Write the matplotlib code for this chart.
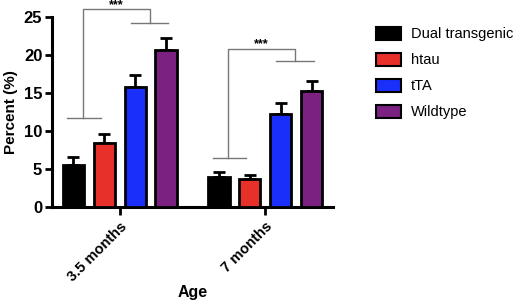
import matplotlib
matplotlib.use("Agg")
import matplotlib.pyplot as plt
from matplotlib.patches import Patch
import numpy as np

plt.rcParams['font.family'] = ['Liberation Sans', 'DejaVu Sans']

groups = ["3.5 months", "7 months"]
series = ["Dual transgenic", "htau", "tTA", "Wildtype"]
colors = ["#000000", "#E8302A", "#1B2FFB", "#7A2182"]
means = {
    "Dual transgenic": [5.5, 4.0],
    "htau": [8.4, 3.7],
    "tTA": [15.8, 12.2],
    "Wildtype": [20.7, 15.3],
}
errs = {
    "Dual transgenic": [1.1, 0.6],
    "htau": [1.2, 0.5],
    "tTA": [1.6, 1.5],
    "Wildtype": [1.5, 1.3],
}
yticks = [0, 5, 10, 15, 20, 25]

fig = plt.figure(figsize=(5.17, 3.07), dpi=100)
ax = fig.add_axes([52/517, 1-207/307, (333-52)/517, (207-17)/307])

x = np.arange(len(groups))
spacing = 0.212
width = 0.145
for i, s in enumerate(series):
    pos = x + (i - 1.5) * spacing
    ax.bar(pos, means[s], width, color=colors[i], edgecolor="black", linewidth=2, zorder=3)
    ax.errorbar(pos, means[s], yerr=[np.zeros(2), errs[s]], fmt="none", ecolor="black",
                elinewidth=2, capsize=4, capthick=2, zorder=2)

ax.set_xlim(-0.465, 1.465)
ax.set_ylim(0, 25)
ax.set_yticks(yticks)
ax.set_xticks(x)
ax.set_xticklabels(groups, rotation=45, ha="right", rotation_mode="anchor", fontweight="bold", fontsize=10.5)
for lab in ax.get_yticklabels():
    lab.set_fontweight("bold")
    lab.set_fontsize(12)
ax.tick_params(axis="both", width=2, length=5, direction="out", pad=2)
ax.tick_params(axis="x", length=6, pad=3)
for sp in ["top", "right"]:
    ax.spines[sp].set_visible(False)
for sp in ["left", "bottom"]:
    ax.spines[sp].set_linewidth(2.2)
ax.set_ylabel("Percent (%)", fontweight="bold", fontsize=11, labelpad=4)
ax.set_xlabel("Age", fontweight="bold", fontsize=11.5, labelpad=1)

# significance brackets
gray = "#777777"
brackets = [
    # (group, lower_y, upper_y, top_y, star_y)
    (0, 11.7, 24.2, 26.0, 26.6),
    (1, 6.5, 19.2, 20.8, 21.4),
]
for g, ly, uy, ty, sy in brackets:
    l0, l1, lm = g - 0.36, g - 0.13, g - 0.255
    r0, r1, rm = g + 0.075, g + 0.335, g + 0.205
    kw = dict(color=gray, lw=1, clip_on=False, zorder=1)
    ax.plot([l0, l1], [ly, ly], **kw)
    ax.plot([lm, lm, rm, rm], [ly, ty, ty, uy], **kw)
    ax.plot([r0, r1], [uy, uy], **kw)
    ax.text((lm + rm) / 2, sy, "***", ha="center", va="center", fontsize=9,
            fontweight="bold", clip_on=False)

handles = [Patch(facecolor=c, edgecolor="black", linewidth=1.5) for c in colors]
fig.legend(handles, series, loc="upper left", bbox_to_anchor=(370/517, 1-21/307),
           frameon=False, fontsize=10.5, handlelength=1.7, handleheight=1.0,
           labelspacing=0.78, handletextpad=0.7, borderaxespad=0)

fig.savefig("out.png", dpi=100)
